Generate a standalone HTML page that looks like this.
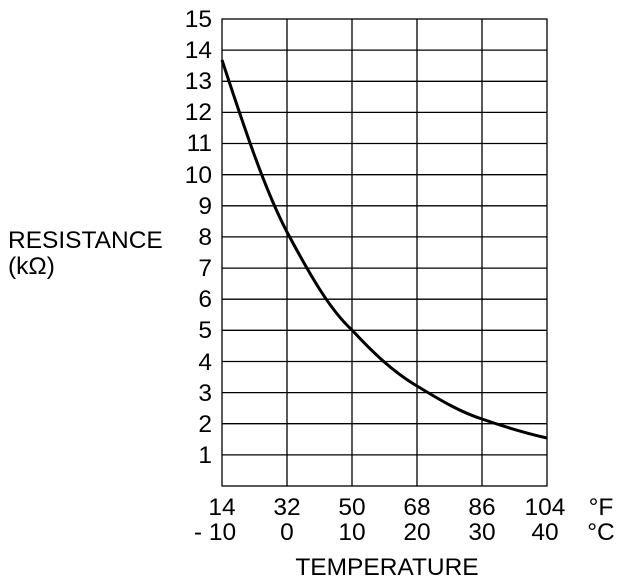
<!DOCTYPE html>
<html><head><style>body{margin:0;background:#fff}</style></head><body>
<svg width="640" height="580" xmlns="http://www.w3.org/2000/svg" font-family="Liberation Sans, Arial, sans-serif" font-size="24.5" fill="#000">
<g stroke="#000" stroke-width="1.3" fill="none">
<rect x="222" y="19" width="325" height="467"/>
<line x1="287" y1="19" x2="287" y2="486"/><line x1="352" y1="19" x2="352" y2="486"/><line x1="417" y1="19" x2="417" y2="486"/><line x1="482" y1="19" x2="482" y2="486"/>
<line x1="222" y1="50.1" x2="547" y2="50.1"/><line x1="222" y1="81.3" x2="547" y2="81.3"/><line x1="222" y1="112.4" x2="547" y2="112.4"/><line x1="222" y1="143.5" x2="547" y2="143.5"/><line x1="222" y1="174.7" x2="547" y2="174.7"/><line x1="222" y1="205.8" x2="547" y2="205.8"/><line x1="222" y1="236.9" x2="547" y2="236.9"/><line x1="222" y1="268.1" x2="547" y2="268.1"/><line x1="222" y1="299.2" x2="547" y2="299.2"/><line x1="222" y1="330.3" x2="547" y2="330.3"/><line x1="222" y1="361.5" x2="547" y2="361.5"/><line x1="222" y1="392.6" x2="547" y2="392.6"/><line x1="222" y1="423.7" x2="547" y2="423.7"/><line x1="222" y1="454.9" x2="547" y2="454.9"/>
</g>
<path d="M222,60 C245,130 265,190 287,232 C310,275 330,310 352,330 C375,355 395,373 417,386 C440,400 460,412 482,419 C505,427 525,433 547,438" stroke="#000" stroke-width="3" fill="none"/>
<g text-anchor="end">
<text x="212" y="27">15</text><text x="212" y="58">14</text><text x="212" y="89">13</text><text x="212" y="120">12</text><text x="212" y="151">11</text><text x="212" y="183">10</text><text x="212" y="214">9</text><text x="212" y="245">8</text><text x="212" y="276">7</text><text x="212" y="307">6</text><text x="212" y="338">5</text><text x="212" y="370">4</text><text x="212" y="401">3</text><text x="212" y="432">2</text><text x="212" y="463">1</text>
</g>
<g text-anchor="middle">
<text x="222" y="515">14</text><text x="287" y="515">32</text><text x="352" y="515">50</text><text x="417" y="515">68</text><text x="482" y="515">86</text><text x="545" y="515">104</text><text x="601" y="515">°F</text>
<text x="215" y="540">- 10</text><text x="287" y="540">0</text><text x="352" y="540">10</text><text x="417" y="540">20</text><text x="482" y="540">30</text><text x="545" y="540">40</text><text x="601" y="540">°C</text>
<text x="387" y="575">TEMPERATURE</text>
</g>
<text x="8" y="248">RESISTANCE</text>
<text x="8" y="274">(kΩ)</text>
</svg>
</body></html>
